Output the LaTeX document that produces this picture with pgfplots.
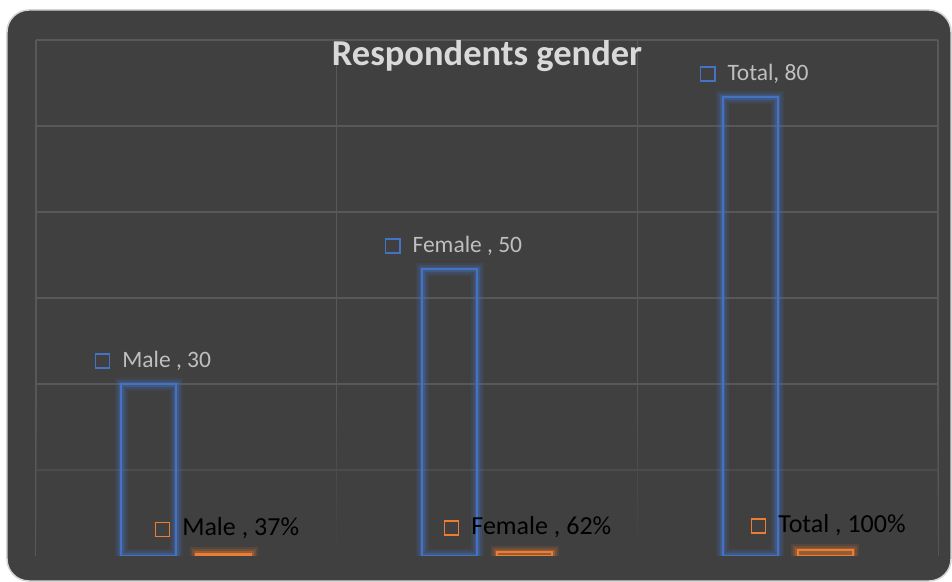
\documentclass[border=0pt]{standalone}
\usepackage{pgfplots}
\pgfplotsset{compat=1.18}
\usepackage{fontspec}
\setmainfont{Carlito}
\usetikzlibrary{fadings}

\definecolor{panel}{HTML}{404040}
\definecolor{gridc}{HTML}{585858}
\definecolor{framec}{HTML}{D4D4D4}
\definecolor{serblue}{HTML}{4472C4}
\definecolor{serorange}{HTML}{ED7D31}
\definecolor{labgrey}{HTML}{BFBFBF}
\definecolor{titlegrey}{HTML}{D9D9D9}

% small outlined square shown in front of each data label
\newcommand{\keybox}[1]{{\color{#1}\setlength{\fboxrule}{1.6bp}\setlength{\fboxsep}{0pt}\fbox{\rule{0pt}{12.5bp}\hspace{12.5bp}}}\hspace{12bp}}

\pgfplotsset{
  glow/.style={ybar, bar width=55bp, fill=none, forget plot, draw=#1},
}

\begin{document}
\begin{tikzpicture}
\useasboundingbox (-36bp,-26bp) rectangle (916bp,556bp);
\fill[white] (-36bp,-26bp) rectangle (916bp,556bp);
\draw[framec, line width=1.5bp, fill=panel, rounded corners=22bp] (-29bp,-25bp) rectangle (915bp,546bp);
\begin{axis}[
  at={(0,0)}, anchor=south west,
  scale only axis, width=902bp, height=516bp,
  xmin=-0.5, xmax=2.5, ymin=0, ymax=90,
  xtick={-0.5,0.5,1.5,2.5}, ytick={15,30,45,60,75,90},
  xticklabels={}, yticklabels={},
  major tick length=0pt,
  axis line style={draw=none},
  grid=major,
  major grid style={gridc, line width=1.2bp},
]
% grid fades out towards the floor
\fill[panel, path fading=north] (axis cs:-0.6,0) rectangle (axis cs:2.6,30);

\node[anchor=base, text=titlegrey, font=\bfseries\fontsize{36.5bp}{40bp}\selectfont, yshift=-25bp]
  at (rel axis cs:0.5,1) {Respondents gender};

% counts (soft glow, then outline)
\addplot[glow=serblue, bar shift=-37.5bp, line width=13bp, draw opacity=0.12]
  coordinates {(0,30) (1,50) (2,80)};
\addplot[glow=serblue, bar shift=-37.5bp, line width=9bp, draw opacity=0.18]
  coordinates {(0,30) (1,50) (2,80)};
\addplot[glow=serblue, bar shift=-37.5bp, line width=5bp, draw opacity=0.3]
  coordinates {(0,30) (1,50) (2,80)};
\addplot[ybar, bar width=55bp, bar shift=-37.5bp, draw=serblue, line width=2bp, fill=none,
  point meta=explicit symbolic,
  nodes near coords={\keybox{serblue}\pgfplotspointmeta},
  every node near coord/.style={anchor=base, yshift=17bp, xshift=-33.5bp, text=labgrey,
    font=\fontsize{23.5bp}{28bp}\selectfont}]
  coordinates {(0,30) [Male , 30] (1,50) [Female , 50] (2,80) [Total, 80]};

% shares (soft glow, then outline)
\addplot[glow=serorange, bar shift=37.5bp, line width=13bp, draw opacity=0.12]
  coordinates {(0,0.37) (1,0.62) (2,1.00)};
\addplot[glow=serorange, bar shift=37.5bp, line width=9bp, draw opacity=0.18]
  coordinates {(0,0.37) (1,0.62) (2,1.00)};
\addplot[glow=serorange, bar shift=37.5bp, line width=5bp, draw opacity=0.3]
  coordinates {(0,0.37) (1,0.62) (2,1.00)};
\addplot[ybar, bar width=55bp, bar shift=37.5bp, draw=serorange, line width=2bp, fill=none,
  point meta=explicit symbolic,
  nodes near coords={\keybox{serorange}\pgfplotspointmeta},
  every node near coord/.style={anchor=base, yshift=18bp, xshift=40.5bp, text=black,
    font=\fontsize{26bp}{30bp}\selectfont}]
  coordinates {(0,0.37) [Male , 37\%] (1,0.62) [Female , 62\%] (2,1.00) [Total , 100\%]};
\end{axis}
\end{tikzpicture}
\end{document}
